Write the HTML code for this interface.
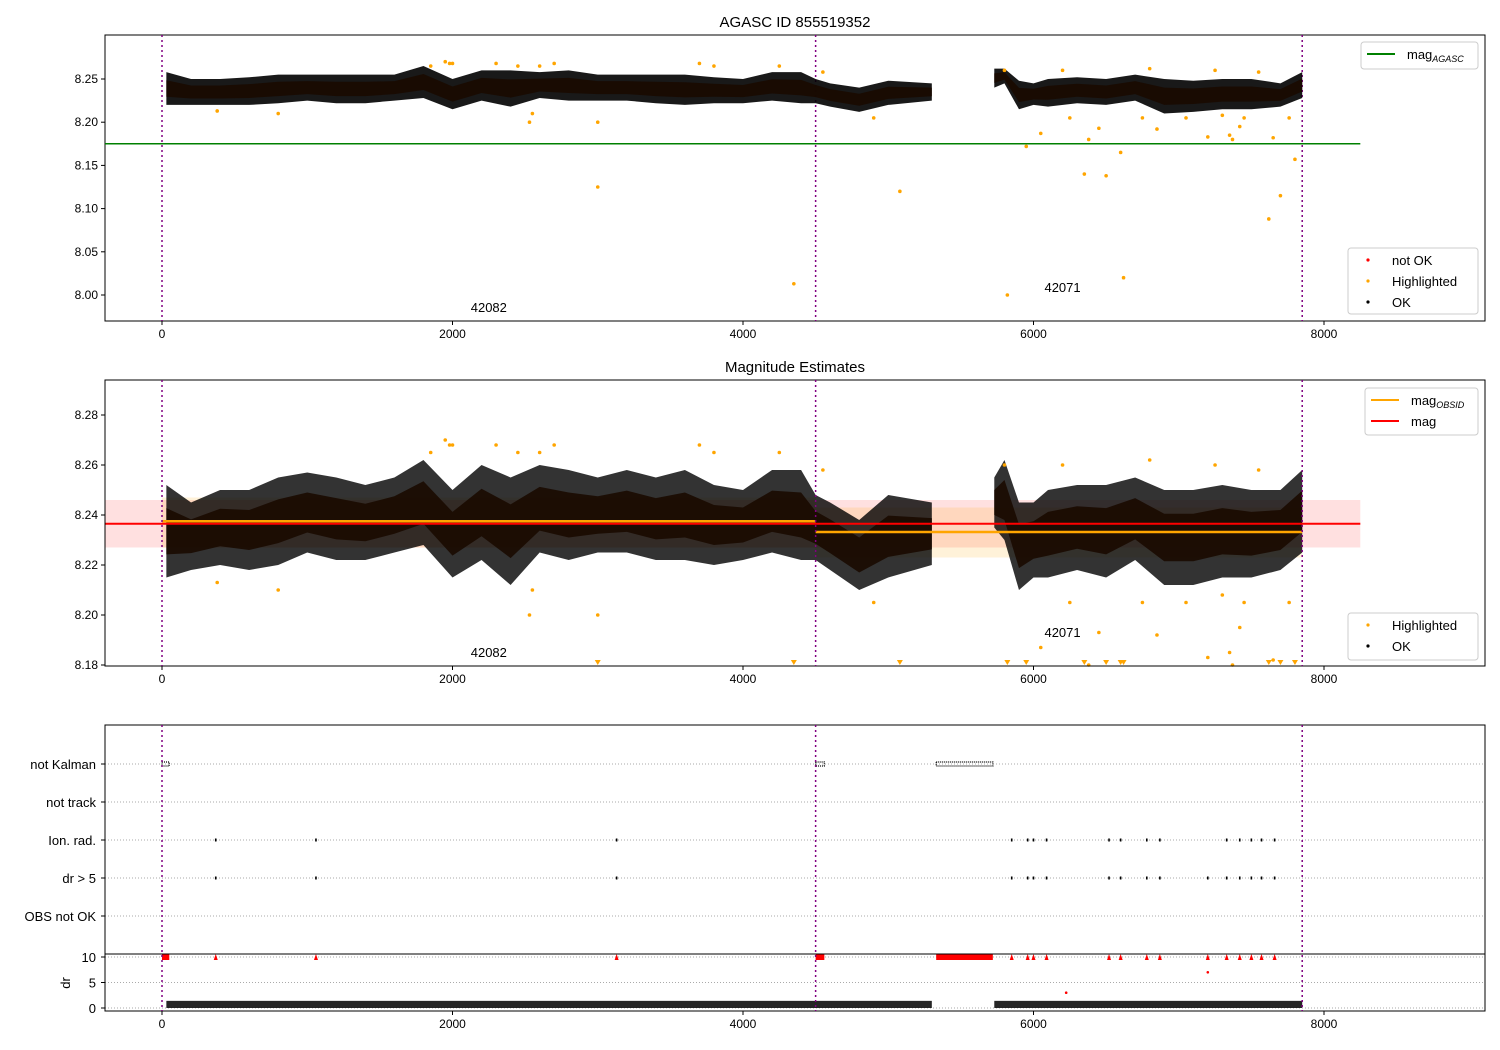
<!DOCTYPE html>
<html><head><meta charset="utf-8"><style>
body{margin:0;background:#fff;}
svg{display:block;font-family:"Liberation Sans","DejaVu Sans",sans-serif;}
</style></head><body>
<svg id="chart" width="1500" height="1050" viewBox="0 0 1500 1050">
<rect width="1500" height="1050" fill="#fff"/>
<g id="p1"></g>
<g id="p2"></g>
<g id="p3"></g>
</svg>
<script>
// ---- data ----
const seg1T=[30,200,400,600,800,1000,1200,1400,1600,1800,2000,2200,2400,2600,2800,3000,3200,3400,3600,3800,4000,4200,4400,4500,4600,4800,5000,5300];
const seg2T=[5730,5800,5900,6000,6100,6300,6500,6700,6900,7100,7300,7500,7700,7850];
const p1Hi1=[8.258,8.25,8.25,8.252,8.255,8.255,8.255,8.255,8.255,8.265,8.25,8.26,8.26,8.258,8.26,8.255,8.255,8.255,8.255,8.252,8.25,8.258,8.258,8.25,8.245,8.24,8.248,8.245];
const p1Lo1=[8.22,8.22,8.22,8.22,8.222,8.225,8.222,8.222,8.225,8.228,8.215,8.225,8.218,8.228,8.225,8.225,8.225,8.222,8.22,8.222,8.222,8.225,8.222,8.222,8.218,8.212,8.22,8.225];
const p1Hi2=[8.262,8.262,8.248,8.245,8.25,8.252,8.25,8.255,8.25,8.248,8.25,8.25,8.245,8.258];
const p1Lo2=[8.24,8.245,8.215,8.22,8.218,8.222,8.22,8.225,8.21,8.212,8.215,8.215,8.218,8.228];
const p2Hi1=[8.252,8.245,8.25,8.25,8.255,8.257,8.255,8.252,8.255,8.262,8.25,8.26,8.255,8.26,8.258,8.255,8.258,8.255,8.258,8.252,8.25,8.258,8.258,8.248,8.245,8.238,8.248,8.245];
const p2Lo1=[8.215,8.218,8.22,8.218,8.22,8.225,8.222,8.222,8.225,8.228,8.215,8.222,8.212,8.225,8.222,8.225,8.225,8.222,8.222,8.22,8.222,8.225,8.222,8.222,8.218,8.21,8.215,8.22];
const p2Hi2=[8.255,8.262,8.245,8.245,8.25,8.252,8.252,8.255,8.25,8.25,8.252,8.25,8.25,8.258];
const p2Lo2=[8.235,8.23,8.21,8.215,8.215,8.218,8.215,8.222,8.212,8.212,8.215,8.215,8.218,8.225];
const hlT=[380,800,1850,1950,1980,2000,2300,2450,2530,2550,2600,2700,3000,3000,3700,3800,4250,4350,4550,4900,5080,5800,5820,5950,6050,6200,6250,6350,6380,6450,6500,6600,6620,6750,6800,6850,7050,7200,7250,7300,7350,7370,7420,7450,7550,7620,7650,7700,7760,7800];
const hlV=[8.213,8.21,8.265,8.27,8.268,8.268,8.268,8.265,8.2,8.21,8.265,8.268,8.2,8.125,8.268,8.265,8.265,8.013,8.258,8.205,8.12,8.26,8.0,8.172,8.187,8.26,8.205,8.14,8.18,8.193,8.138,8.165,8.02,8.205,8.262,8.192,8.205,8.183,8.26,8.208,8.185,8.18,8.195,8.205,8.258,8.088,8.182,8.115,8.205,8.157];
const magAgasc=8.175, magAll=8.2365, magAllErr=0.0095;
const obsStart=[0,4500], obsEnd=[4500,7850], obsMag=[8.2375,8.2332], obsLo=[8.227,8.223], obsHi=[8.247,8.243];
const obsIds=["42082","42071"], obsLabelT=[2250,6200];
const kalmanStart=[0,4500,5330], kalmanEnd=[50,4560,5720];
const ionT=[370,1060,3130,5850,5960,6000,6090,6520,6600,6780,6870,7330,7420,7500,7570,7660];
const drBigT=[370,1060,3130,5850,5960,6000,6090,6520,6600,6780,6870,7200,7330,7420,7500,7570,7660];
const drRedT=[6225,7200], drRedV=[3,7];
const xTicks=[0,2000,4000,6000,8000];
const y1Ticks=[8.00,8.05,8.10,8.15,8.20,8.25];
const y2Ticks=[8.18,8.20,8.22,8.24,8.26,8.28];
const cats=["not Kalman","not track","Ion. rad.","dr > 5","OBS not OK"];
const drTicks=[0,5,10];
// ---- scales ----
const X=t=>162+t*0.14525;
const Y1=v=>79+(8.25-v)*864;
const Y2=v=>415+(8.28-v)*2500;
const YD=v=>1008-v*5.1;
const catY=i=>764+i*38;
const NS='http://www.w3.org/2000/svg';
function el(parent,tag,attrs,text){const e=document.createElementNS(NS,tag);for(const k in attrs)e.setAttribute(k,attrs[k]);if(text!==undefined)e.textContent=text;parent.appendChild(e);return e;}
const p1=document.getElementById('p1'),p2=document.getElementById('p2'),p3=document.getElementById('p3');
function frame(g,top,bot){
  const r=el(g,'rect',{x:105,y:top,width:1380,height:bot-top,fill:'none',stroke:'#000','stroke-width':1});
  
  
  xTicks.forEach(t=>{
    el(g,'line',{x1:X(t),x2:X(t),y1:bot,y2:bot+4,stroke:'#000'});
    const tx=el(g,'text',{x:X(t),y:bot+17,'text-anchor':'middle','font-size':12},String(t));
    
    
  });
  [0,4500,7850].forEach(t=>{
    const l=el(g,'line',{x1:X(t),x2:X(t),y1:top,y2:bot,stroke:'#800080','stroke-width':1.5,'stroke-dasharray':'2,3'});
    
    
  });
}
function yTicks(g,ticks,Y,fmt){
  ticks.forEach(v=>{
    el(g,'line',{x1:101,x2:105,y1:Y(v),y2:Y(v),stroke:'#000'});
    const tx=el(g,'text',{x:98,y:Y(v)+4,'text-anchor':'end','font-size':12},fmt(v));
    
    
  });
}
function band(g,T,hi,lo,Y,op,name){
  let pts=T.map((t,i)=>X(t)+','+Y(hi[i]));
  for(let i=T.length-1;i>=0;i--)pts.push(X(T[i])+','+Y(lo[i]));
  const p=el(g,'polygon',{points:pts.join(' '),fill:'#000','fill-opacity':op});
  
  
  let c=T.map((t,i)=>X(t)+','+Y(hi[i]-(hi[i]-lo[i])*0.25));
  for(let i=T.length-1;i>=0;i--)c.push(X(T[i])+','+Y(lo[i]+(hi[i]-lo[i])*0.25));
  const q=el(g,'polygon',{points:c.join(' '),fill:'#1a0a00','fill-opacity':0.9});
  
  
}
function legend(g,x,y,w,h,items){
  const b=el(g,'rect',{x:x,y:y,width:w,height:h,fill:'#fff','fill-opacity':0.8,stroke:'#ccc',rx:3});
  
  
  items.forEach((it,i)=>{
    const cy=y+12+i*21;
    if(it.line){el(g,'line',{x1:x+6,x2:x+34,y1:cy,y2:cy,stroke:it.c,'stroke-width':2});}
    else{el(g,'circle',{cx:x+20,cy:cy,r:1.6,fill:it.c});}
    const tx=el(g,'text',{x:x+(it.line?46:44),y:cy+5,'font-size':13},it.t);
    if(it.sub){el(tx,'tspan',{'font-size':9,'font-style':'italic',dy:3},it.sub);}
    
    
  });
}
// ---- panel 1 ----
let t1=el(p1,'text',{x:795,y:27,'text-anchor':'middle','font-size':15},'AGASC ID 855519352');


frame(p1,35,321);
yTicks(p1,y1Ticks,Y1,v=>v.toFixed(2));
band(p1,seg1T,p1Hi1,p1Lo1,Y1,0.9,'ok-points-obs1');
band(p1,seg2T,p1Hi2,p1Lo2,Y1,0.9,'ok-points-obs2');
let g1=el(p1,'line',{x1:105,x2:X(8250),y1:Y1(magAgasc),y2:Y1(magAgasc),stroke:'#008000','stroke-width':1.5});


hlT.forEach((t,i)=>{const v=hlV[i];if(Y1(v)>321||Y1(v)<35)return;
  const c=el(p1,'circle',{cx:X(t),cy:Y1(v),r:1.8,fill:'orange'});
  
  });
obsIds.forEach((id,i)=>{const tx=el(p1,'text',{x:X(obsLabelT[i]),y:i==0?312:292,'text-anchor':'middle','font-size':13},id);
  
  });
legend(p1,1361,42,117,27,[{line:1,c:'#008000',t:'mag',sub:'AGASC'}]);
legend(p1,1348,248,130,66,[{c:'red',t:'not OK'},{c:'orange',t:'Highlighted'},{c:'#000',t:'OK'}]);
// ---- panel 2 ----
let t2=el(p2,'text',{x:795,y:372,'text-anchor':'middle','font-size':15},'Magnitude Estimates');


let rb=el(p2,'rect',{x:105,y:Y2(magAll+magAllErr),width:X(8250)-105,height:Y2(magAll-magAllErr)-Y2(magAll+magAllErr),fill:'red','fill-opacity':0.12});


obsStart.forEach((s,i)=>{const r=el(p2,'rect',{x:X(s),y:Y2(obsHi[i]),width:X(obsEnd[i])-X(s),height:Y2(obsLo[i])-Y2(obsHi[i]),fill:'orange','fill-opacity':0.15});
  
  });
band(p2,seg1T,p2Hi1,p2Lo1,Y2,0.8,'ok-points-obs1');
band(p2,seg2T,p2Hi2,p2Lo2,Y2,0.8,'ok-points-obs2');
obsStart.forEach((s,i)=>{const l=el(p2,'line',{x1:X(s),x2:X(obsEnd[i]),y1:Y2(obsMag[i]),y2:Y2(obsMag[i]),stroke:'orange','stroke-width':2.5});
  
  });
let ml=el(p2,'line',{x1:105,x2:X(8250),y1:Y2(magAll),y2:Y2(magAll),stroke:'red','stroke-width':2});


hlT.forEach((t,i)=>{const v=hlV[i];let c;
  if(v<8.18){const x=X(t);c=el(p2,'polygon',{points:`${x-3},660 ${x+3},660 ${x},665`,fill:'orange'});}
  else c=el(p2,'circle',{cx:X(t),cy:Y2(v),r:1.8,fill:'orange'});
  
  });
obsIds.forEach((id,i)=>{const tx=el(p2,'text',{x:X(obsLabelT[i]),y:i==0?657:637,'text-anchor':'middle','font-size':13},id);
  
  });
frame(p2,380,666);
yTicks(p2,y2Ticks,Y2,v=>v.toFixed(2));
legend(p2,1365,388,113,47,[{line:1,c:'orange',t:'mag',sub:'OBSID'},{line:1,c:'red',t:'mag'}]);
legend(p2,1348,613,130,47,[{c:'orange',t:'Highlighted'},{c:'#000',t:'OK'}]);
// ---- panel 3 ----
cats.forEach((c,i)=>{
  el(p3,'line',{x1:105,x2:1485,y1:catY(i),y2:catY(i),stroke:'#aaa','stroke-dasharray':'1,2'});
  el(p3,'line',{x1:101,x2:105,y1:catY(i),y2:catY(i),stroke:'#000'});
  const tx=el(p3,'text',{x:96,y:catY(i)+5,'text-anchor':'end','font-size':13},c);
  
  
});
drTicks.forEach(v=>{
  el(p3,'line',{x1:105,x2:1485,y1:YD(v),y2:YD(v),stroke:'#aaa','stroke-dasharray':'1,2'});
  el(p3,'line',{x1:101,x2:105,y1:YD(v),y2:YD(v),stroke:'#000'});
  const tx=el(p3,'text',{x:96,y:YD(v)+5,'text-anchor':'end','font-size':13},String(v));
  
  
});
let drt=el(p3,'text',{x:70,y:983,'text-anchor':'middle','font-size':13,transform:'rotate(-90 70 983)'},'dr');


kalmanStart.forEach((s,i)=>{
  const r=el(p3,'rect',{x:X(s),y:catY(0)-2,width:X(kalmanEnd[i])-X(s),height:4,fill:'none',stroke:'#000','stroke-width':1.2,'stroke-dasharray':'1,1'});
  
  
  const d=el(p3,'rect',{x:X(s),y:YD(10)-3,width:X(kalmanEnd[i])-X(s),height:6,fill:'red'});
  
  
});
ionT.forEach(t=>{const c=el(p3,'rect',{x:X(t)-0.8,y:catY(2)-1.5,width:1.6,height:3,fill:'#000'});
  
  });
drBigT.forEach(t=>{const c=el(p3,'rect',{x:X(t)-0.8,y:catY(3)-1.5,width:1.6,height:3,fill:'#000'});
  
  
  const x=X(t);const r=el(p3,'polygon',{points:`${x-2},${YD(10)+3} ${x+2},${YD(10)+3} ${x},${YD(10)-3}`,fill:'red'});
  
  });
drRedT.forEach((t,i)=>{const c=el(p3,'circle',{cx:X(t),cy:YD(drRedV[i]),r:1.3,fill:'red'});
  
  });
[[seg1T[0],seg1T[seg1T.length-1]],[seg2T[0],seg2T[seg2T.length-1]]].forEach(s=>{
  const r=el(p3,'rect',{x:X(s[0]),y:YD(1.4),width:X(s[1])-X(s[0]),height:YD(0)-YD(1.4),fill:'#000','fill-opacity':0.85});
  
  
});
el(p3,'line',{x1:105,x2:1485,y1:954,y2:954,stroke:'#000','stroke-width':1});
frame(p3,725,1011);
</script>
</body></html>
